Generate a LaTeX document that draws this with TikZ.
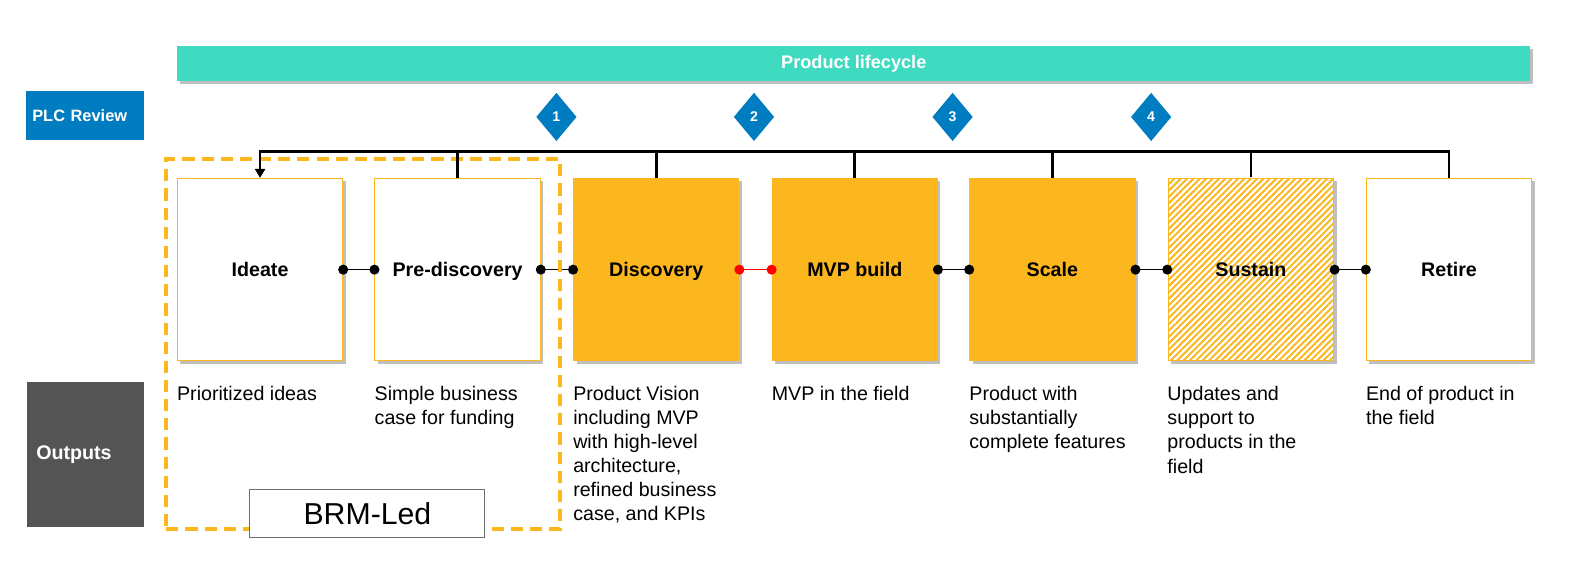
\documentclass[tikz,border=0pt]{standalone}
\usepackage{fontspec}
\setmainfont{Liberation Sans}
\usetikzlibrary{shapes.geometric,shadows,patterns.meta,arrows.meta}
\definecolor{teal1}{RGB}{63,219,193}
\definecolor{plcblue}{RGB}{0,124,192}
\definecolor{orng}{RGB}{252,183,30}
\definecolor{outgray}{RGB}{84,84,84}
\definecolor{brmgray}{RGB}{110,110,110}
\begin{document}
\begin{tikzpicture}[x=1pt,y=-1pt,
  shad/.style={drop shadow={shadow xshift=3pt,shadow yshift=-3pt,fill=black,opacity=0.25}},
  stage/.style={shad,draw=orng,line width=1pt,minimum width=164pt,minimum height=181pt,inner sep=0pt,text height=14pt,text depth=0pt,font=\fontsize{19.5}{23}\selectfont\bfseries},
  whitestage/.style={stage,fill=white},
  fullstage/.style={stage,fill=orng},
  hatchstage/.style={stage,preaction={fill=white},pattern={Lines[angle=45,distance=4.5pt,line width=2pt]},pattern color=orng},
  outtext/.style={anchor=north west,inner sep=0pt,align=left,font=\fontsize{19.5}{24}\selectfont},
  gate/.style={diamond,fill=plcblue,minimum width=40pt,minimum height=48pt,inner sep=0pt,text=white,font=\fontsize{14}{16}\selectfont\bfseries},
  bracket/.style={line width=2.6pt},
  link/.style={line width=1.3pt},
]
\useasboundingbox (0,0) rectangle (1581,583);
\fill[white] (0,0) rectangle (1581,583);
\begin{scope}[transform canvas={scale=1.008}]

% top bar
\node[shad,fill=teal1,minimum width=1342pt,minimum height=34pt,inner sep=0pt,text=white,font=\fontsize{18}{21}\selectfont\bfseries] (plc) at (847,63) {Product lifecycle};

% side labels
\node[fill=plcblue,minimum height=49pt,inner xsep=6pt,inner ysep=0pt,text width=105pt,align=left,text=white,font=\fontsize{16.3}{19}\selectfont\bfseries] (review) at (84.5,114.5) {PLC Review};
\node[fill=outgray,minimum height=144pt,inner xsep=9pt,inner ysep=0pt,text width=98pt,align=left,text=white,font=\fontsize{19.5}{22}\selectfont\bfseries] (outputs) at (85,451) {Outputs};

% review gates
\node[gate] (g1) at (552,116) {1};
\node[gate] (g2) at (748,116) {2};
\node[gate] (g3) at (945,116) {3};
\node[gate] (g4) at (1142,116) {4};

% stages
\node[whitestage] (ideate) at (258,267.5) {Ideate};
\node[whitestage] (pre) at (454,267.5) {Pre-discovery};
\node[fullstage] (disc) at (651,267.5) {Discovery};
\node[fullstage] (mvp) at (848,267.5) {MVP build};
\node[fullstage] (scale) at (1044,267.5) {Scale};
\node[hatchstage] (sustain) at (1241,267.5) {Sustain};
\node[whitestage] (retire) at (1437.5,267.5) {Retire};

% connectors between stages
\foreach \a/\b/\c in {ideate/pre/black,pre/disc/black,disc/mvp/red,mvp/scale/black,scale/sustain/black,sustain/retire/black}{
  \draw[link,\c] (\a.east) -- (\b.west);
  \fill[\c] (\a.east) circle[radius=5pt] (\b.west) circle[radius=5pt];
}

% outputs
\node[outtext] (o1) at ([yshift=-24pt]ideate.south west) {Prioritized ideas};
\node[outtext] (o2) at ([yshift=-24pt]pre.south west) {Simple business\\case for funding};
\node[outtext] (o3) at ([yshift=-24pt]disc.south west) {Product Vision\\including MVP\\with high-level\\architecture,\\refined business\\case, and KPIs};
\node[outtext] (o4) at ([yshift=-24pt]mvp.south west) {MVP in the field};
\node[outtext] (o5) at ([yshift=-24pt]scale.south west) {Product with\\substantially\\complete features};
\node[outtext] (o6) at ([yshift=-24pt]sustain.south west) {Updates and\\support to\\products in the\\field};
\node[outtext] (o7) at ([yshift=-24pt]retire.south west) {End of product in\\the field};

% BRM-led zone
\node[draw=orng,line width=4pt,dash pattern=on 12pt off 7pt,minimum width=391pt,minimum height=367pt,inner sep=0pt] (zone) at (360.5,341.5) {};

% review bracket
\coordinate (bary) at (0,150);
\draw[bracket,-{Triangle[width=10pt,length=9pt]}] (retire.north) |- (ideate.north |- bary) -- (ideate.north);
\foreach \n in {pre,disc,mvp,scale,sustain}{
  \draw[bracket] (\n.north) -- (\n.north |- bary);
}

\node[draw=brmgray,fill=white,line width=1pt,minimum width=233pt,minimum height=47pt,inner sep=0pt,font=\fontsize{30}{33}\selectfont] (brm) at (364.5,509.5) {BRM-Led};
\end{scope}
\end{tikzpicture}
\end{document}
